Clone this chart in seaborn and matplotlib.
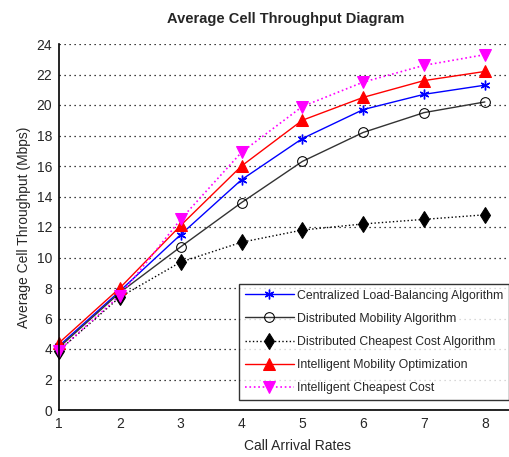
import matplotlib
matplotlib.use("Agg")
import matplotlib.pyplot as plt
import seaborn as sns
import pandas as pd

rates = [1, 2, 3, 4, 5, 6, 7, 8]
centralized = [4.2, 7.8, 11.5, 15.1, 17.8, 19.7, 20.7, 21.3]
dist_mobility = [4.1, 7.7, 10.7, 13.6, 16.3, 18.2, 19.5, 20.2]
dist_cheapest = [3.9, 7.4, 9.7, 11.0, 11.8, 12.2, 12.5, 12.8]
intel_mobility = [4.4, 8.0, 12.1, 16.0, 19.0, 20.5, 21.6, 22.2]
intel_cheapest = [3.9, 7.5, 12.5, 16.9, 19.9, 21.5, 22.6, 23.3]

names = ["Centralized Load-Balancing Algorithm",
         "Distributed Mobility Algorithm",
         "Distributed Cheapest Cost Algorithm",
         "Intelligent Mobility Optimization",
         "Intelligent Cheapest Cost"]
series = [centralized, dist_mobility, dist_cheapest, intel_mobility, intel_cheapest]

sns.set_style("white")
plt.rcParams['font.family'] = ['Liberation Sans', 'DejaVu Sans']

fig = plt.figure(figsize=(5.1, 4.57), dpi=100)
ax = fig.add_axes([59 / 510, 1 - 410 / 457, 1 - 59 / 510 + 0.002, 366 / 457])

styles = [
    dict(color="blue", linestyle="-", marker=(6, 2, 0), markersize=7, markerfacecolor="blue", markeredgecolor="blue", markeredgewidth=1.0, lw=1),
    dict(color="#333333", linestyle="-", marker="o", markersize=7, markerfacecolor="none", markeredgecolor="black", lw=1),
    dict(color="black", linestyle=":", marker="d", markersize=8, markerfacecolor="black", markeredgecolor="black", lw=1),
    dict(color="red", linestyle="-", marker="^", markersize=8.5, markerfacecolor="red", markeredgecolor="red", lw=1),
    dict(color="magenta", linestyle=":", marker="v", markersize=8.5, markerfacecolor="magenta", markeredgecolor="magenta", lw=1.2),
]

for name, vals, st in zip(names, series, styles):
    df = pd.DataFrame({"rate": rates, "val": vals})
    sns.lineplot(data=df, x="rate", y="val", ax=ax, label=name, clip_on=False, **st)

ax.set_xlim(1, 8.43)
ax.set_ylim(0, 24)
ax.set_xticks(rates)
ax.set_yticks(range(0, 25, 2))
ax.tick_params(axis="both", labelsize=10, direction="in", length=5, width=1, pad=5)
ax.yaxis.grid(True, linestyle=(0, (1, 3)), color="black", lw=0.9)
ax.xaxis.grid(False)
for s in ["top", "right"]:
    ax.spines[s].set_visible(False)
for s in ["left", "bottom"]:
    ax.spines[s].set_color("black")
    ax.spines[s].set_linewidth(1.2)

ax.set_title("Average Cell Throughput Diagram", fontsize=10.5, fontweight="bold", pad=15, x=(285 - 59) / (510 - 59))
ax.set_xlabel("Call Arrival Rates", fontsize=10, x=(297 - 59) / (510 - 59), labelpad=6)
ax.set_ylabel("Average Cell Throughput (Mbps)", fontsize=10)

leg = ax.legend(loc="upper left", bbox_to_anchor=((239 - 59) / (510 - 59), (410 - 284) / 366),
                fontsize=8.8, frameon=True,
                fancybox=False, edgecolor="black", handlelength=4.0, borderpad=0.45,
                labelspacing=0.92, handletextpad=0.3, borderaxespad=0)
leg.get_frame().set_linewidth(1)

fig.savefig("out.png", dpi=100)
